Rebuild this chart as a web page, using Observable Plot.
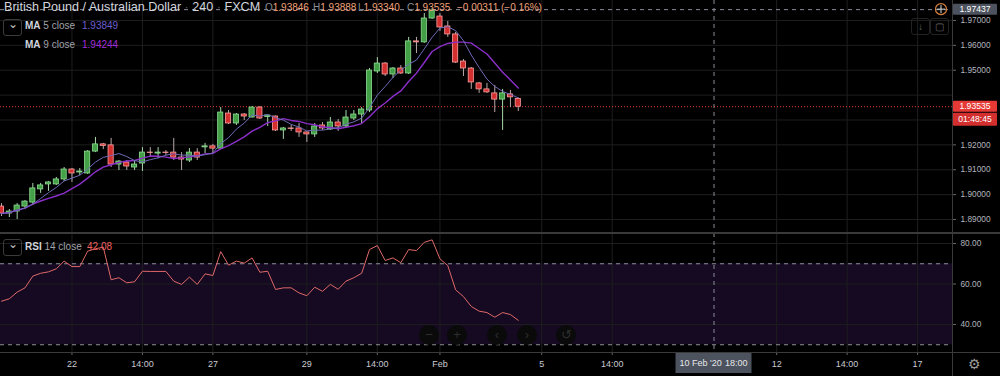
<!DOCTYPE html>
<html><head><meta charset="utf-8">
<script src="https://cdn.jsdelivr.net/npm/d3@7"></script>
<script src="https://cdn.jsdelivr.net/npm/@observablehq/plot@0.6"></script>
<style>
html,body{margin:0;padding:0;background:#000;}
#wrap{position:relative;width:1000px;height:376px;background:#000;overflow:hidden;font-family:"Liberation Sans",Arial,sans-serif;}
#wrap svg{position:absolute;left:0;}
.lg{position:absolute;white-space:nowrap;line-height:1;}
.sep{position:absolute;background:#3a3a3a;}
.btn{position:absolute;width:17px;height:15px;border:1px solid #3a3a3a;border-radius:3px;color:#9a9a9a;font-size:10px;text-align:center;line-height:15px;}
.nav{position:absolute;width:20px;height:20px;border-radius:10px;background:#0a0a0a;color:#2e2e2e;font-size:13px;text-align:center;line-height:20px;}
</style></head><body><div id="wrap"></div>
<script>
// ---- data (GBP/AUD, 240 min, FXCM) ----
const opens = [1.8952,1.8924,1.8932,1.8952,1.8968,1.9021,1.9041,1.9041,1.9061,1.9101,
1.9089,1.9085,1.9173,1.9202,1.9198,1.9121,1.9129,1.9109,1.9125,1.9169,
1.9165,1.9169,1.9169,1.9149,1.9137,1.9169,1.9190,1.9194,1.9185,1.9326,
1.9286,1.9322,1.9310,1.9350,1.9312,1.9314,1.9258,1.9266,1.9266,1.9250,
1.9242,1.9278,1.9262,1.9290,1.9274,1.9306,1.9322,1.9338,1.9495,1.9527,
1.9483,1.9507,1.9487,1.9616,1.9612,1.9708,1.9716,1.9676,1.9644,1.9535,
1.9507,1.9447,1.9423,1.9407,1.9382,1.9403,1.93846];
const highs = [1.8964,1.8940,1.8964,1.8976,1.9045,1.9045,1.9053,1.9069,1.9109,1.9105,
1.9105,1.9177,1.9230,1.9206,1.9226,1.9137,1.9137,1.9137,1.9189,1.9189,
1.9189,1.9177,1.9226,1.9169,1.9185,1.9185,1.9206,1.9202,1.9350,1.9338,
1.9326,1.9326,1.9354,1.9354,1.9318,1.9316,1.9270,1.9278,1.9286,1.9252,
1.9286,1.9290,1.9310,1.9302,1.9338,1.9338,1.9350,1.9507,1.9551,1.9531,
1.9511,1.9519,1.9632,1.9632,1.9728,1.9748,1.9728,1.9696,1.9652,1.9543,
1.9511,1.9451,1.9447,1.9439,1.9423,1.9419,1.93888];
const lows = [1.8912,1.8908,1.8900,1.8940,1.8956,1.9005,1.9013,1.9037,1.9053,1.9049,
1.9077,1.9081,1.9169,1.9181,1.9109,1.9097,1.9097,1.9097,1.9093,1.9149,
1.9145,1.9157,1.9137,1.9097,1.9129,1.9137,1.9165,1.9165,1.9184,1.9282,
1.9278,1.9298,1.9308,1.9302,1.9274,1.9254,1.9222,1.9254,1.9230,1.9210,
1.9230,1.9258,1.9258,1.9254,1.9266,1.9298,1.9286,1.9330,1.9487,1.9475,
1.9467,1.9483,1.9483,1.9567,1.9608,1.9704,1.9656,1.9632,1.9527,1.9475,
1.9423,1.9407,1.9407,1.9330,1.9258,1.9350,1.93340];
const closes = [1.8924,1.8932,1.8956,1.8972,1.9025,1.9037,1.9049,1.9061,1.9101,1.9085,
1.9093,1.9173,1.9202,1.9196,1.9121,1.9133,1.9113,1.9121,1.9169,1.9167,
1.9169,1.9167,1.9149,1.9141,1.9169,1.9149,1.9194,1.9185,1.9330,1.9286,
1.9322,1.9314,1.9350,1.9306,1.9318,1.9258,1.9266,1.9264,1.9250,1.9242,
1.9274,1.9266,1.9290,1.9274,1.9310,1.9322,1.9342,1.9499,1.9527,1.9483,
1.9507,1.9487,1.9616,1.9612,1.9708,1.9740,1.9672,1.9644,1.9531,1.9507,
1.9451,1.9423,1.9411,1.9382,1.9407,1.9391,1.93535];
const rsiValues = [51.5,52.7,56.0,58.1,63.9,65.3,66.0,67.5,71.3,68.6,
68.6,76.2,77.4,78.2,62.1,63.1,60.6,61.1,66.3,66.2,
66.2,66.2,61.4,59.8,63.4,59.8,65.0,64.2,76.0,69.3,
71.3,70.3,72.9,65.8,66.3,57.3,58.1,58.1,55.6,54.2,
58.4,56.4,59.8,57.4,61.4,63.1,65.3,77.0,79.0,71.6,
72.9,70.5,77.0,76.5,80.6,81.8,72.4,69.1,57.1,53.8,
48.9,46.6,45.9,43.6,45.9,44.9,42.08];
// time axis: bar index of each labelled tick
const tickIndex = [9,18,27,39,48,56,69,78,99,108,117];
const tickLabels = ["22","14:00","27","29","14:00","Feb","5","14:00","12","14:00","17"];
const priceTicks = [1.89,1.90,1.91,1.92,1.93,1.94,1.95,1.96,1.97];
const rsiTicks = [40,60,80];
const rsiLevels = [70,30];
const crosshairPrice = 1.97437;
const crosshairIndex = 91;
const crosshairDate = "10 Feb '20";
const crosshairTime = "18:00";
const countdown = "01:48:45";
const ma5Last = "1.93849", ma9Last = "1.94244", rsiLast = "42.08";
const changeAbs = "\u22120.00311", changePct = "(\u22120.16%)";

// ---- build ----
const candles = opens.map((o,i)=>({i, open:o, high:highs[i], low:lows[i], close:closes[i], up: closes[i]>=o, rsi: rsiValues[i]}));
const last = candles[candles.length-1];
const fontFam = '"Liberation Sans", Arial, sans-serif';
const grid = "#1e1e1e";
const xDomain = [-0.128, 121.46];
const yDomain = [1.88437, 1.97804];
const wrap = document.getElementById("wrap");
// price labels hidden under the last-price/countdown boxes (as on the reference)
const pxPerUnit = 233 / (yDomain[1] - yDomain[0]);
const axisPriceTicks = priceTicks.filter(t => Math.abs(t - last.close) * pxPerUnit > 16);

const main = Plot.plot({
  width: 1000, height: 233,
  marginLeft: 0, marginRight: 48, marginTop: 0, marginBottom: 0,
  style: {background: "transparent", fontFamily: fontFam, fontSize: "8.3px", color: "#b2b5be", overflow: "visible"},
  x: {domain: xDomain, axis: null},
  y: {domain: yDomain, axis: null},
  marks: [
    Plot.ruleX(tickIndex, {stroke: grid}),
    Plot.ruleY(priceTicks, {stroke: grid}),
    Plot.ruleY([crosshairPrice], {stroke: "#8a8d96", strokeDasharray: "4,4"}),
    Plot.ruleX([crosshairIndex], {stroke: "#8a8d96", strokeDasharray: "4,4"}),
    Plot.ruleY([last.close], {stroke: "#e53935", strokeDasharray: "1,2"}),
    Plot.ruleX(candles, {x: "i", y1: "low", y2: "high", stroke: d => d.up ? "#a8d8aa" : "#b8a8a8"}),
    Plot.rect(candles, {x1: d => d.i - 0.33, x2: d => d.i + 0.33, y1: "open", y2: "close",
      fill: d => d.up ? "#43a047" : "#d32f2f", stroke: d => d.up ? "#8fdc93" : "#ffa0a0", strokeWidth: 0.8}),
    Plot.lineY(candles, Plot.windowY({k: 9, anchor: "end"}, {x: "i", y: "close", stroke: "#8b2fc9", strokeWidth: 1.4})),
    Plot.lineY(candles, Plot.windowY({k: 5, anchor: "end"}, {x: "i", y: "close", stroke: "#6f6ab8", strokeWidth: 1})),
    Plot.axisY(axisPriceTicks, {anchor: "right", label: null, tickSize: 3, tickPadding: 5, tickFormat: d3.format(".5f"), stroke: "#666", fill: "#b2b5be"})
  ]
});
main.style.top = "0px";
wrap.appendChild(main);

const rsiPlot = Plot.plot({
  width: 1000, height: 143,
  marginLeft: 0, marginRight: 48, marginTop: 0, marginBottom: 24,
  style: {background: "transparent", fontFamily: fontFam, fontSize: "8.3px", color: "#b2b5be", overflow: "visible"},
  x: {domain: xDomain, axis: null},
  y: {domain: [26.17, 84.94], axis: null},
  marks: [
    Plot.rect([rsiLevels], {y1: d => d[1], y2: d => d[0], fill: "#150a22"}),
    Plot.ruleX(tickIndex, {stroke: grid}),
    Plot.ruleY(rsiTicks, {stroke: grid}),
    Plot.ruleY(rsiLevels, {stroke: "#8f8f95", strokeDasharray: "4,4"}),
    Plot.ruleX([crosshairIndex], {stroke: "#8a8d96", strokeDasharray: "4,4"}),
    Plot.lineY(candles, {x: "i", y: "rsi", stroke: "#e06868", strokeWidth: 1}),
    Plot.axisY(rsiTicks, {anchor: "right", label: null, tickSize: 3, tickPadding: 5, tickFormat: d3.format(".2f"), stroke: "#666", fill: "#b2b5be"}),
    Plot.axisX(tickIndex, {anchor: "bottom", label: null, tickSize: 3, tickPadding: 5, stroke: "#666", fill: "#c8cad0", fontSize: 9,
      tickFormat: d => tickLabels[tickIndex.indexOf(d)]})
  ]
});
rsiPlot.style.top = "233px";
wrap.appendChild(rsiPlot);

// ---- overlays via scales ----
const ys = main.scale("y");
const svgM = d3.select(main);
function priceBox(price, label, fill, dy, h) {
  const yy = ys.apply(price) + dy;
  svgM.append("rect").attr("x", 953).attr("y", yy - h/2).attr("width", 44).attr("height", h).attr("fill", fill).attr("rx", 1);
  svgM.append("text").attr("x", 975).attr("y", yy).attr("dy", "0.35em").attr("text-anchor", "middle")
    .attr("fill", "#fff").attr("font-size", "8.6px").attr("font-family", fontFam).text(label);
}
priceBox(crosshairPrice, d3.format(".5f")(crosshairPrice), "#4c525e", 0, 11);
priceBox(last.close, d3.format(".5f")(last.close), "#e53935", 0, 11);
priceBox(last.close, countdown, "#d32f2f", 13, 13);
// crosshair marker
const cy = ys.apply(crosshairPrice);
svgM.append("circle").attr("cx", 941).attr("cy", cy).attr("r", 5.5).attr("fill", "none").attr("stroke", "#d9823f").attr("stroke-width", 1.2);
svgM.append("path").attr("d", `M937,${cy}H945M941,${cy-4}V${cy+4}`).attr("stroke", "#ddd").attr("stroke-width", 1);

// bottom crosshair date box
const svgR = d3.select(rsiPlot);
const cx = rsiPlot.scale("x").apply(crosshairIndex);
svgR.append("rect").attr("x", cx - 38).attr("y", 120).attr("width", 76).attr("height", 20).attr("fill", "#4c525e");
svgR.append("text").attr("x", cx - 34).attr("y", 130).attr("dy", "0.35em").attr("text-anchor", "start").attr("fill", "#e6e7ea").attr("font-size", "9px").attr("font-family", fontFam).text(crosshairDate);
svgR.append("text").attr("x", cx + 34).attr("y", 130).attr("dy", "0.35em").attr("text-anchor", "end").attr("fill", "#e6e7ea").attr("font-size", "9px").attr("font-family", fontFam).text(crosshairTime);

// separators
function sep(l, t, w, h) { const d = document.createElement("div"); d.className = "sep"; Object.assign(d.style, {left: l+"px", top: t+"px", width: w+"px", height: h+"px"}); wrap.appendChild(d); }
sep(952, 0, 1, 376);
sep(0, 232, 1000, 2);
sep(0, 352, 1000, 1);

// legends
function lg(html, l, t, size, color) { const d = document.createElement("div"); d.className = "lg"; d.innerHTML = html; Object.assign(d.style, {left: l+"px", top: t+"px", fontSize: size+"px", color}); wrap.appendChild(d); return d; }
lg(`British Pound / Australian Dollar <span style="color:#555">·</span> 240 <span style="color:#555">·</span> FXCM`, 4, 1, 12.6, "#d1d4dc");
const ohlcCol = "#f0a07a", lab = "#8a8d96";
lg(`<span style="color:${lab}">O</span>${d3.format(".5f")(last.open)}`, 265, 3, 10, ohlcCol);
lg(`<span style="color:${lab}">H</span>${d3.format(".5f")(last.high)}`, 313, 3, 10, ohlcCol);
lg(`<span style="color:${lab}">L</span>${d3.format(".5f")(last.low)}`, 358, 3, 10, ohlcCol);
lg(`<span style="color:${lab}">C</span>${d3.format(".5f")(last.close)}`, 407, 3, 10, ohlcCol);
lg(changeAbs, 457, 3, 10, ohlcCol);
lg(changePct, 501, 3, 10, ohlcCol);

function chevron(l, t) { const d = document.createElement("div"); d.className = "btn"; d.innerHTML = "&#8964;"; Object.assign(d.style, {left: l+"px", top: t+"px", lineHeight: "9px", fontSize: "12px", color: "#c0c0c0"}); wrap.appendChild(d); }
chevron(3, 19);
lg(`<b style="color:#d1d4dc;font-weight:bold">MA</b> 5 close`, 25, 21, 10, "#a0a3ab");
lg(ma5Last, 82, 21, 10, "#6b5fcf");
lg(`<b style="color:#d1d4dc;font-weight:bold">MA</b> 9 close`, 25, 40, 10, "#a0a3ab");
lg(ma9Last, 82, 40, 10, "#a030d8");
chevron(3, 239);
lg(`<b style="color:#d1d4dc;font-weight:bold">RSI</b> 14 close`, 25, 242, 10, "#a0a3ab");
lg(rsiLast, 87, 242, 10, "#f06060");

// toolbar buttons
const b1 = document.createElement("div"); b1.className = "btn"; b1.textContent = "\u2193"; Object.assign(b1.style, {left: "911px", top: "18px", borderColor: "#222", color: "#666"}); wrap.appendChild(b1);
const b2 = document.createElement("div"); b2.className = "btn"; b2.textContent = "\u25A2"; Object.assign(b2.style, {left: "930px", top: "18px", borderColor: "#222", color: "#666"}); wrap.appendChild(b2);
[["\u2212", 419], ["+", 447], ["\u2039", 487], ["\u203A", 517], ["\u21BA", 556]].forEach(([g, l]) => {
  const d = document.createElement("div"); d.className = "nav"; d.textContent = g; Object.assign(d.style, {left: l+"px", top: "325px"}); wrap.appendChild(d);
});
lg("\u2699", 968, 357, 14, "#9a9a9a");
</script></body></html>
